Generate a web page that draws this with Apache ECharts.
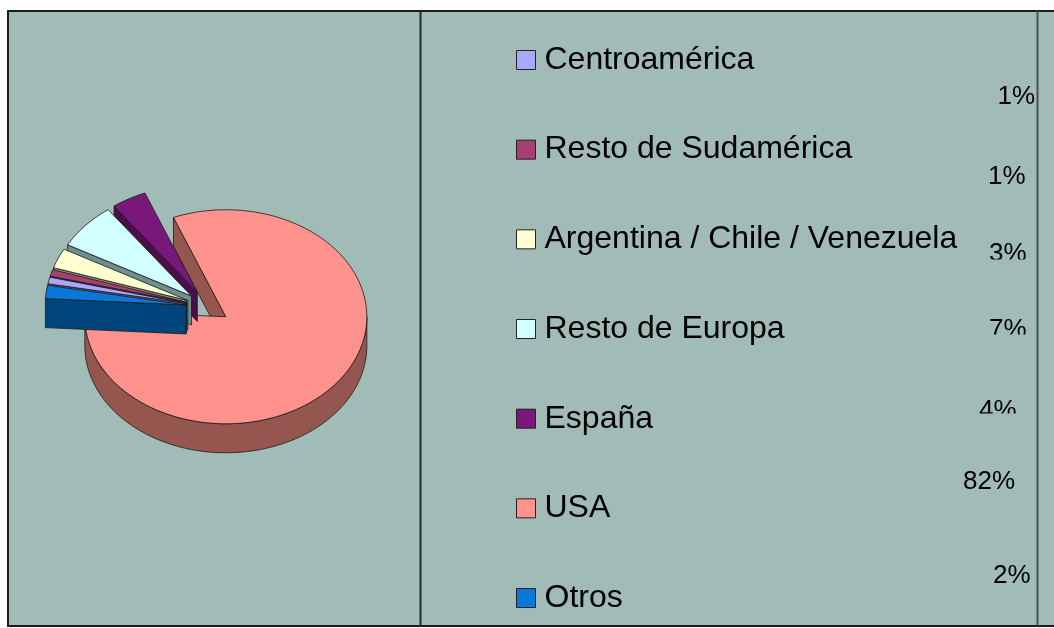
<!DOCTYPE html>
<html>
<head>
<meta charset="utf-8">
<script src="https://cdn.jsdelivr.net/npm/echarts@6/dist/echarts.min.js"></script>
<style>
html, body { margin: 0; padding: 0; background: #fff; }
#chart { width: 1054px; height: 628px; }
</style>
</head>
<body>
<div id="chart"></div>
<script>
// data, in the order of the workbook (clockwise from the first slice)
const categories = ['Centroamérica', 'Resto de Sudamérica', 'Argentina / Chile / Venezuela', 'Resto de Europa', 'España', 'USA', 'Otros']
const values = [1, 1, 3, 7, 4, 82, 2]

// looks
const topColors = ['#a8a8ff', '#a6406e', '#ffffd2', '#d2ffff', '#791879', '#ff928c', '#0a78d6']
const sideColors = ['#5c5c8c', '#5a2240', '#8c8c70', '#6f8f8f', '#4a0e4a', '#955650', '#00467c']
const labelSpots = [[1035, 97], [1025.5, 177], [1026.5, 253.5], [1026.5, 330], [1016.5, 411], [1015, 481.5], [1030.5, 575.5]]
// back to front
const drawOrder = [5, 4, 3, 2, 1, 0, 6]

const CX = 208, CY = 307, RX = 141, RY = 107, DEPTH = 29, EXPLODE = 22, START = 280.6
const BG = '#a1bbb6'

let total = values.reduce((a, b) => a + b, 0)
let acc = START
const slices = values.map(v => {
    let a1 = acc
    acc += v / total * 360
    return [a1, acc]
})

function rim(cx, cy, deg) {
    let r = deg * Math.PI / 180
    return [cx + RX * Math.sin(r), cy - RY * Math.cos(r)]
}

function arcPoints(cx, cy, a1, a2, dy) {
    let n = Math.max(2, Math.ceil((a2 - a1) / 2))
    let pts = []
    for (let k = 0; k <= n; k++) {
        let p = rim(cx, cy, a1 + (a2 - a1) * k / n)
        pts.push([p[0], p[1] + dy])
    }
    return pts
}

function sliceShape(i) {
    let a1 = slices[i][0], a2 = slices[i][1]
    let mid = (a1 + a2) / 2 * Math.PI / 180
    let cx = CX + EXPLODE * Math.sin(mid)
    let cy = CY - EXPLODE * Math.cos(mid) * RY / RX
    let edge = {stroke: '#1a1a1a', lineWidth: 0.8}
    let children = []
    // cut faces that turn toward the viewer
    ;[[a1, a1 - 90], [a2, a2 + 90]].forEach(([a, n]) => {
        if (Math.cos(n * Math.PI / 180) < 0) {
            let p = rim(cx, cy, a)
            children.push({
                type: 'polygon',
                shape: {points: [[cx, cy], p, [p[0], p[1] + DEPTH], [cx, cy + DEPTH]]},
                style: Object.assign({fill: sideColors[i]}, edge)
            })
        }
    })
    // outer wall on the front half
    for (let k = -1; k <= 2; k++) {
        let f1 = Math.max(a1, 90 + 360 * k), f2 = Math.min(a2, 270 + 360 * k)
        if (f2 > f1) {
            let top = arcPoints(cx, cy, f1, f2, 0)
            let bottom = arcPoints(cx, cy, f1, f2, DEPTH).reverse()
            children.push({
                type: 'polygon',
                shape: {points: top.concat(bottom)},
                style: Object.assign({fill: sideColors[i]}, edge)
            })
        }
    }
    children.push({
        type: 'polygon',
        shape: {points: [[cx, cy]].concat(arcPoints(cx, cy, a1, a2, 0))},
        style: Object.assign({fill: topColors[i]}, edge)
    })
    children.push({
        type: 'text',
        x: labelSpots[i][0],
        y: labelSpots[i][1],
        style: {
            text: Math.round(values[i] / total * 100) + '%',
            align: 'right',
            verticalAlign: 'middle',
            fontSize: 26,
            fontFamily: 'Liberation Sans, Arial, sans-serif',
            fill: '#000'
        }
    })
    return {type: 'group', children: children}
}

let chartDom = document.getElementById('chart')
let myChart = echarts.init(chartDom, null, {renderer: 'canvas'})

let option = {
    backgroundColor: '#ffffff',
    animation: false,
    graphic: [
        {type: 'rect', z: 0, shape: {x: 8, y: 11, width: 1070, height: 615}, style: {fill: BG, stroke: '#1c1c1c', lineWidth: 2}},
        {type: 'line', z: 10, shape: {x1: 420.5, y1: 11, x2: 420.5, y2: 626}, style: {stroke: '#1f2a2a', lineWidth: 2}},
        {type: 'line', z: 10, shape: {x1: 1037.5, y1: 11, x2: 1037.5, y2: 626}, style: {stroke: '#3f5555', lineWidth: 2}},
        // the workbook cut the feet off three labels
        {type: 'rect', z: 10, shape: {x: 985, y: 259.5, width: 47, height: 8}, style: {fill: BG}},
        {type: 'rect', z: 10, shape: {x: 985, y: 334.5, width: 47, height: 8}, style: {fill: BG}},
        {type: 'rect', z: 10, shape: {x: 975, y: 413.5, width: 47, height: 8}, style: {fill: BG}}
    ],
    legend: {
        orient: 'vertical',
        left: 511,
        top: 39,
        itemWidth: 19,
        itemHeight: 19,
        itemGap: 57.67,
        icon: 'rect',
        selectedMode: false,
        data: categories,
        itemStyle: {borderColor: '#222', borderWidth: 1},
        textStyle: {fontSize: 32, lineHeight: 32, color: '#000', fontFamily: 'Liberation Sans, Arial, sans-serif', padding: [0, 0, 0, 4]}
    },
    series: drawOrder.map(i => ({
        type: 'custom',
        name: categories[i],
        coordinateSystem: 'none',
        silent: true,
        itemStyle: {color: topColors[i]},
        data: [[values[i]]],
        renderItem: () => sliceShape(i)
    }))
}
myChart.setOption(option)

window.addEventListener('resize', () => {
    myChart.resize()
})
</script>
</body>
</html>
